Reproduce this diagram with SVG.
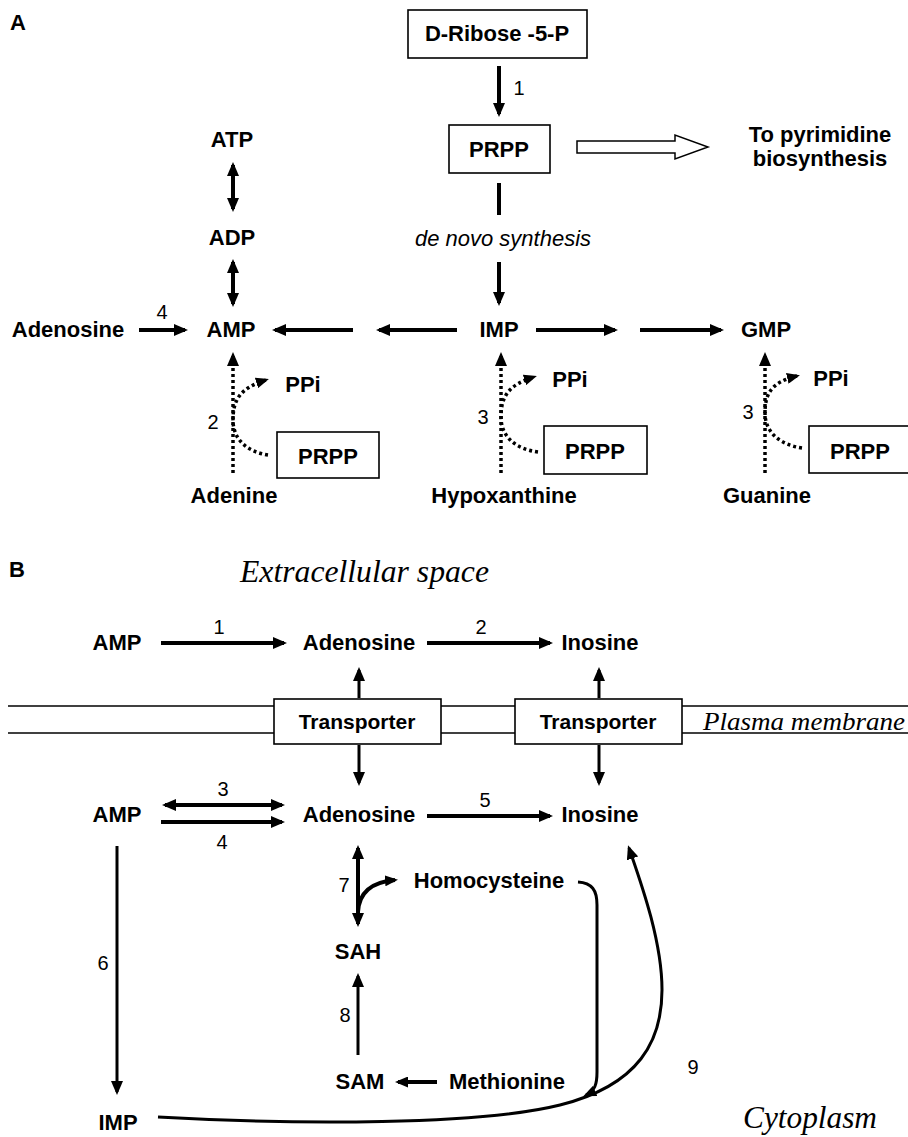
<svg xmlns="http://www.w3.org/2000/svg" width="908" height="1137" viewBox="0 0 908 1137">
<style>
.b{font-family:"Liberation Sans",Arial,sans-serif;font-weight:bold;font-size:22px;text-anchor:middle;fill:#000}
.n{font-family:"Liberation Sans",Arial,sans-serif;font-size:20px;text-anchor:middle;fill:#000}
.it{font-family:"Liberation Sans",Arial,sans-serif;font-style:italic;font-size:22px;text-anchor:middle;fill:#000}
.ser{font-family:"Liberation Serif","Times New Roman",serif;font-style:italic;font-size:31px;fill:#000}
.box{fill:#fff;stroke:#000;stroke-width:1.6}
.ln{fill:none;stroke:#000;stroke-width:4}
.th{fill:none;stroke:#000;stroke-width:3}
.dot{fill:none;stroke:#000;stroke-width:3.5;stroke-dasharray:3 3}
.mem{stroke:#000;stroke-width:1.5}
</style>
<defs>
<marker id="ah" viewBox="0 0 14 12" refX="11" refY="6" markerWidth="14" markerHeight="12" markerUnits="userSpaceOnUse" orient="auto-start-reverse"><path d="M0,0 L14,6 L0,12 z" fill="#000"/></marker>
<marker id="as" viewBox="0 0 13 11" refX="10" refY="5.5" markerWidth="13" markerHeight="11" markerUnits="userSpaceOnUse" orient="auto-start-reverse"><path d="M0,0 L13,5.5 L0,11 z" fill="#000"/></marker>
</defs>
<rect width="908" height="1137" fill="#fff"/>

<!-- Panel A -->
<text class="b" x="10" y="30" style="text-anchor:start">A</text>
<g id="ribose"><rect class="box" x="408" y="10" width="179" height="48"/><text class="b" x="497" y="41">D-Ribose -5-P</text></g>
<g id="prpp-top"><rect class="box" x="449" y="125" width="101" height="48"/><text class="b" x="499" y="157">PRPP</text></g>
<g id="pyrimidine"><text class="b" x="820" y="142">To pyrimidine</text><text class="b" x="820" y="166">biosynthesis</text></g>
<g id="atp"><text class="b" x="232" y="147">ATP</text></g>
<g id="adp"><text class="b" x="232" y="245">ADP</text></g>
<g id="denovo"><text class="it" x="503" y="246">de novo synthesis</text></g>
<g id="adenosine-a"><text class="b" x="68" y="337">Adenosine</text></g>
<g id="amp-a"><text class="b" x="231" y="337">AMP</text></g>
<g id="imp-a"><text class="b" x="499" y="337">IMP</text></g>
<g id="gmp-a"><text class="b" x="766" y="337">GMP</text></g>
<g id="ppi1"><text class="b" x="303" y="392">PPi</text></g>
<g id="ppi2"><text class="b" x="570" y="387">PPi</text></g>
<g id="ppi3"><text class="b" x="831" y="386">PPi</text></g>
<g id="prpp1"><rect class="box" x="277" y="432" width="102" height="46"/><text class="b" x="328" y="464">PRPP</text></g>
<g id="prpp2"><rect class="box" x="544" y="426" width="103" height="48"/><text class="b" x="595" y="459">PRPP</text></g>
<g id="prpp3"><rect class="box" x="809" y="426" width="106" height="47"/><text class="b" x="860" y="459">PRPP</text></g>
<g id="adenine"><text class="b" x="234" y="503">Adenine</text></g>
<g id="hypoxanthine"><text class="b" x="504" y="503">Hypoxanthine</text></g>
<g id="guanine"><text class="b" x="767" y="503">Guanine</text></g>

<g id="connectors-a">
<line class="ln" x1="499" y1="66" x2="499" y2="114" marker-end="url(#ah)"/>
<text class="n" x="519" y="95">1</text>
<polygon points="577,141 675,141 675,135 708,147 675,159 675,153 577,153" fill="#fff" stroke="#000" stroke-width="1.5"/>
<line class="ln" x1="233" y1="165" x2="233" y2="209" marker-start="url(#ah)" marker-end="url(#ah)"/>
<line class="ln" x1="233" y1="262" x2="233" y2="304" marker-start="url(#ah)" marker-end="url(#ah)"/>
<line class="ln" x1="499" y1="183" x2="499" y2="215"/>
<line class="ln" x1="499" y1="262" x2="499" y2="303" marker-end="url(#ah)"/>
<line class="ln" x1="139" y1="330" x2="185" y2="330" marker-end="url(#ah)"/>
<text class="n" x="162" y="319">4</text>
<line class="ln" x1="353" y1="330" x2="275" y2="330" marker-end="url(#ah)"/>
<line class="ln" x1="457" y1="330" x2="379" y2="330" marker-end="url(#ah)"/>
<line class="ln" x1="536" y1="330" x2="615" y2="330" marker-end="url(#ah)"/>
<line class="ln" x1="640" y1="330" x2="721" y2="330" marker-end="url(#ah)"/>
<line class="dot" x1="233" y1="473" x2="233" y2="355" marker-end="url(#ah)"/>
<line class="dot" x1="501" y1="473" x2="501" y2="355" marker-end="url(#ah)"/>
<line class="dot" x1="765" y1="473" x2="765" y2="355" marker-end="url(#ah)"/>
<path class="dot" d="M268,455 C248,452 233,440 233,420 C233,400 240,388 266,380" marker-end="url(#as)"/>
<path class="dot" d="M538,452 C516,449 501,437 501,417 C501,397 508,385 534,377" marker-end="url(#as)"/>
<path class="dot" d="M802,448 C781,445 765,433 765,413 C765,393 772,382 797,376" marker-end="url(#as)"/>
<text class="n" x="213" y="429">2</text>
<text class="n" x="483" y="424">3</text>
<text class="n" x="748" y="419">3</text>
</g>

<!-- Panel B -->
<text class="b" x="9" y="577" style="text-anchor:start">B</text>
<text class="ser" x="240" y="582" textLength="249" lengthAdjust="spacingAndGlyphs">Extracellular space</text>
<g id="membrane">
<line class="mem" x1="8" y1="706" x2="908" y2="706"/>
<line class="mem" x1="8" y1="733" x2="908" y2="733"/>
</g>
<g id="transporter1"><rect class="box" x="274" y="699" width="167" height="45"/><text class="b" x="357" y="729" style="font-size:21px">Transporter</text></g>
<g id="transporter2"><rect class="box" x="515" y="699" width="167" height="45"/><text class="b" x="598" y="729" style="font-size:21px">Transporter</text></g>
<text class="ser" x="703" y="730" style="font-size:26px" textLength="202" lengthAdjust="spacingAndGlyphs">Plasma membrane</text>
<g id="amp-ext"><text class="b" x="117" y="650">AMP</text></g>
<g id="adenosine-ext"><text class="b" x="359" y="650">Adenosine</text></g>
<g id="inosine-ext"><text class="b" x="600" y="650">Inosine</text></g>
<g id="amp-in"><text class="b" x="117" y="822">AMP</text></g>
<g id="adenosine-in"><text class="b" x="359" y="822">Adenosine</text></g>
<g id="inosine-in"><text class="b" x="600" y="822">Inosine</text></g>
<g id="homocysteine"><text class="b" x="489" y="888">Homocysteine</text></g>
<g id="sah"><text class="b" x="358" y="959">SAH</text></g>
<g id="sam"><text class="b" x="360" y="1089">SAM</text></g>
<g id="methionine"><text class="b" x="507" y="1089">Methionine</text></g>
<g id="imp-b"><text class="b" x="118" y="1130">IMP</text></g>
<text class="ser" x="743" y="1128" textLength="134" lengthAdjust="spacingAndGlyphs">Cytoplasm</text>

<g id="connectors-b">
<line class="ln" x1="161" y1="643" x2="284" y2="643" marker-end="url(#ah)"/>
<text class="n" x="219" y="634">1</text>
<line class="ln" x1="427" y1="643" x2="550" y2="643" marker-end="url(#ah)"/>
<text class="n" x="481" y="634">2</text>
<line class="th" x1="359" y1="698" x2="359" y2="670" marker-end="url(#ah)"/>
<line class="th" x1="599" y1="698" x2="599" y2="670" marker-end="url(#ah)"/>
<line class="th" x1="359" y1="745" x2="359" y2="783" marker-end="url(#ah)"/>
<line class="th" x1="599" y1="745" x2="599" y2="783" marker-end="url(#ah)"/>
<line class="ln" x1="165" y1="805" x2="282" y2="805" marker-start="url(#ah)" marker-end="url(#ah)"/>
<text class="n" x="223" y="796">3</text>
<line class="ln" x1="161" y1="822" x2="282" y2="822" marker-end="url(#ah)"/>
<text class="n" x="222" y="849">4</text>
<line class="ln" x1="427" y1="816" x2="550" y2="816" marker-end="url(#ah)"/>
<text class="n" x="485" y="807">5</text>
<line class="th" x1="117" y1="846" x2="117" y2="1092" marker-end="url(#ah)"/>
<text class="n" x="103" y="970">6</text>
<line class="ln" x1="358" y1="848" x2="358" y2="924" marker-start="url(#ah)" marker-end="url(#ah)"/>
<path class="ln" d="M358,912 C359,893 371,882 395,880" marker-end="url(#as)"/>
<text class="n" x="344" y="892">7</text>
<line class="th" x1="358" y1="1055" x2="358" y2="976" marker-end="url(#ah)"/>
<text class="n" x="345" y="1022">8</text>
<line class="ln" x1="437" y1="1082" x2="398" y2="1082" marker-end="url(#as)"/>
<path class="th" d="M578,882 C592,883 597,890 597,905 L597,1072 C597,1084 595,1091 586,1095" marker-end="url(#as)"/>
<path class="th" d="M158,1117 C300,1125 480,1125 560,1105 C640,1085 662,1040 662,990 C662,940 640,880 629,848" marker-end="url(#ah)"/>
<text class="n" x="693" y="1074">9</text>
</g>
</svg>
